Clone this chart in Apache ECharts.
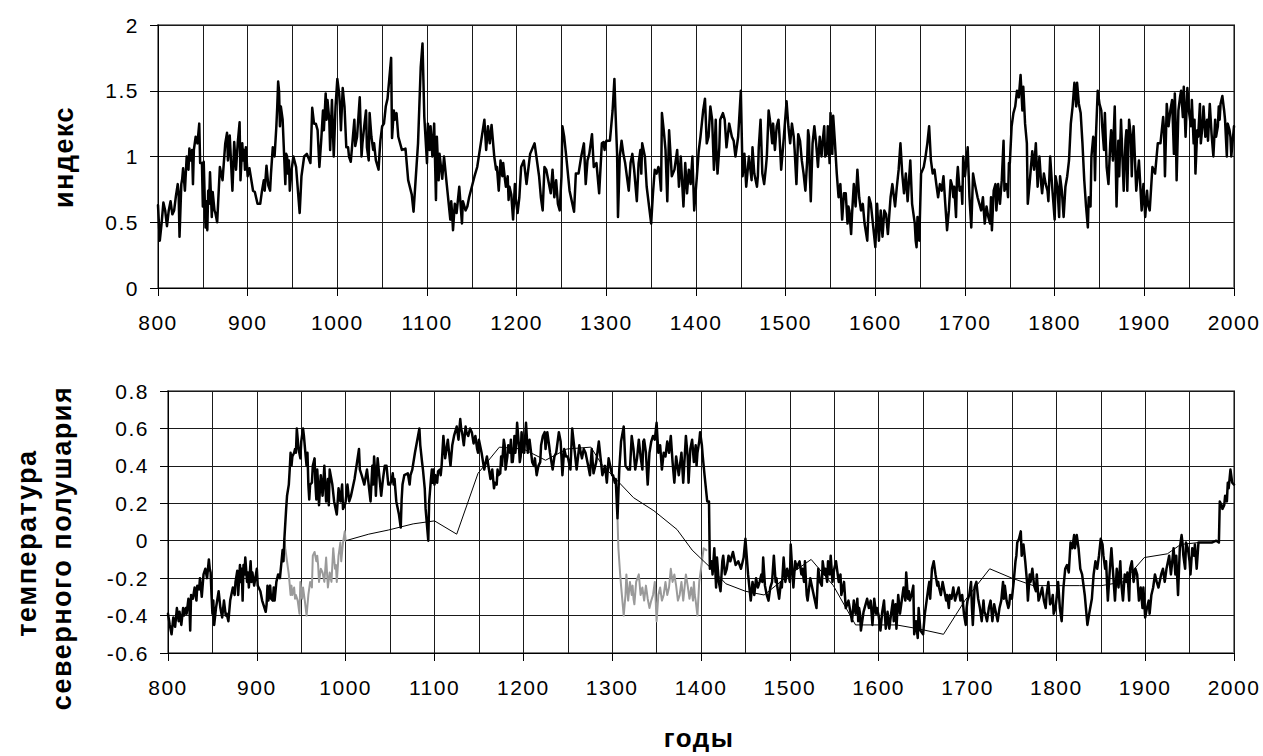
<!DOCTYPE html>
<html><head><meta charset="utf-8">
<script src="https://cdn.jsdelivr.net/npm/echarts@6/dist/echarts.min.js"></script>
<style>
html,body{margin:0;padding:0;background:#fff;}
#chart{width:1263px;height:756px;}
#chart text{letter-spacing:1.5px;}
</style></head><body><div id="chart"></div>
<script>
// ---- top panel: index ----
const idxYears = [
800,802,804,806,808,810,812,814,816,818,820,822,823,824,826,827,828,830,832,834,835,836,838,839,840,842,844,846,847,849,
850,851,853,854,855,856,857,858,860,861,863,864,866,867,869,872,875,877,878,880,883,885,887,889,891,892,894,895,896,897,898,900,
902,906,908,911,914,916,918,919,921,923,925,926,928,930,932,933,934,935,936,937,939,942,943,944,945,946,947,949,951,
954,958,960,963,966,970,972,974,976,978,980,982,984,985,987,988,989,991,992,994,996,998,1000,
1002,1003,1004,1006,1008,1010,1012,1013,1015,1019,1020,1022,1025,1027,1028,1030,1032,1033,1035,1036,1038,1040,1041,1043,1046,1047,1048,1050,
1052,1054,1056,1060,1061,1063,1064,1066,1068,1072,1076,1079,1083,1085,1087,1090,1093,1095,1097,1100,
1101,1103,1104,1106,1108,1110,1111,1113,1114,1117,1119,1122,1126,1127,1128,1129,1131,1133,1136,1139,1140,1143,1145,1147,1150,
1153,1156,1160,1164,1166,1168,1170,1172,1175,1177,1178,1180,1182,1184,1185,1187,1188,1190,1191,1192,1194,1196,1198,1199,1201,
1203,1205,1208,1211,1215,1220,1222,1225,1227,1229,1231,1233,1238,1240,1242,1244,1246,1248,1250,1251,
1253,1255,1259,1264,1266,1269,1272,1275,1277,1279,1281,1284,1286,1289,1292,1295,1297,1298,1299,1300,
1304,1307,1309,1310,1312,1313,1315,1317,1319,1321,1325,1327,1329,1331,1334,1336,1338,1339,1340,1343,1345,1350,
1352,1354,1356,1358,1359,1361,1362,1364,1366,1368,1370,1373,1376,1379,1381,1383,1386,1388,1390,1392,1394,1396,1398,
1401,1403,1405,1408,1410,1412,1414,1416,1418,1420,1422,1423,1424,1426,1427,1430,1432,1434,1437,1440,1442,1444,1447,1450,
1452,1454,1456,1459,1462,1463,1465,1468,1469,1470,1472,1474,1476,1478,1479,1481,1483,1485,1486,1488,1490,1492,1493,1495,1498,1501,
1503,1505,1507,1509,1510,1512,1514,1516,1518,1520,1522,1524,1525,1526,1527,1528,1530,1532,1534,1536,1538,1540,1541,1543,1544,1546,1547,1548,1549,1550,
1552,1553,1555,1557,1559,1561,1563,1565,1567,1569,1570,1571,1573,1574,1576,1578,1580,1582,1584,1586,1588,1591,1593,1595,1600,
1602,1604,1606,1608,1610,1612,1614,1617,1619,1622,1624,1626,1628,1630,1632,1634,1636,1639,1641,1644,1645,1646,1647,1649,
1651,1654,1656,1658,1660,1662,1664,1666,1668,1670,1672,1674,1676,1678,1680,1682,1684,1686,1687,1688,1690,1691,1692,1694,1696,1697,1698,1700,
1703,1705,1707,1709,1711,1714,1718,1720,1722,1724,1726,1728,1729,1730,1732,1734,1735,1737,1739,1741,1743,1744,1746,1747,1748,1749,1750,
1752,1754,1756,1758,1760,1762,1764,1765,1767,1769,1770,1772,1775,1777,1779,1781,1783,1785,1786,1788,1790,1792,1793,1795,1797,1800,
1801,1803,1805,1806,1808,1810,1812,1814,1816,1818,1820,1822,1824,1825,1827,1829,1831,1833,1835,1837,1838,1840,1841,1843,1844,1845,1846,1848,
1850,1852,1853,1855,1856,1858,1860,1862,1863,1865,1866,1867,1868,1869,1871,1872,1874,1877,1879,1880,1881,1883,1885,1886,1887,1888,1891,1894,1897,1899,
1901,1903,1904,1906,1909,1912,1915,1918,1921,1922,1923,1925,1927,1929,1931,1933,1934,1935,1936,1938,1940,1941,1943,1944,1946,1948,1950,
1952,1953,1955,1956,1957,1959,1960,1962,1963,1965,1966,1968,1970,1971,1973,1975,1977,1979,1980,1982,1983,1984,1985,1987,1989,1990,1992,1993,1995,1996,1997,2000
];
const idxValues = [
0.63,0.36,0.49,0.65,0.59,0.47,0.59,0.66,0.56,0.59,0.70,0.79,0.73,0.39,0.79,0.83,0.91,0.74,1.00,0.90,1.06,0.97,1.05,0.79,1.05,1.15,1.10,1.25,0.95,0.95,
0.62,0.96,0.46,0.66,0.44,0.74,0.64,0.88,0.54,0.73,0.59,0.57,0.50,0.64,0.92,0.82,1.10,1.18,0.97,1.16,0.74,1.11,0.90,1.11,1.26,0.82,1.10,0.97,1.05,0.90,1.07,0.85,
0.91,0.74,0.73,0.64,0.64,0.74,0.82,0.74,0.93,0.78,0.74,0.87,1.07,1.00,1.23,1.38,1.57,1.50,1.23,1.38,1.28,0.79,1.02,1.00,0.87,0.97,0.74,0.90,1.00,
0.92,0.57,0.85,1.00,1.02,0.95,1.37,1.25,1.25,1.20,0.92,1.12,1.35,1.20,1.48,1.28,1.43,1.28,1.05,1.43,1.00,1.38,1.59,
1.48,1.38,1.20,1.52,1.38,1.07,1.07,1.00,0.96,1.28,1.08,1.15,1.45,1.00,1.10,1.23,1.35,1.07,0.97,1.33,1.15,1.05,1.10,0.97,0.90,1.02,1.12,1.23,
1.25,1.38,1.44,1.75,1.14,1.35,1.28,1.33,1.15,1.05,1.06,0.82,0.71,0.58,0.79,1.10,1.68,1.86,1.30,0.95,
1.25,1.05,1.23,1.00,1.25,0.67,1.15,0.82,1.02,0.83,1.00,0.79,0.52,0.66,0.57,0.44,0.64,0.57,0.77,0.49,0.66,0.59,0.62,0.69,0.77,
0.85,0.92,1.10,1.28,1.05,1.23,1.10,1.24,1.00,0.90,0.92,0.74,0.97,0.85,0.95,0.82,0.77,0.85,0.67,0.77,0.71,0.52,0.79,0.68,0.57,
0.69,0.92,0.97,0.79,1.02,1.10,1.00,0.85,0.69,0.59,0.92,0.90,0.72,0.90,0.69,0.82,0.64,0.59,0.85,1.23,
1.15,1.02,0.74,0.58,0.87,0.87,1.00,1.10,0.79,0.97,1.02,1.17,0.92,0.95,0.72,1.10,1.11,1.05,1.09,1.12,
1.12,1.35,1.59,1.38,1.02,0.54,1.00,1.12,1.02,0.95,0.74,0.95,1.02,0.90,0.66,0.95,1.05,0.87,1.10,1.00,0.77,0.49,
0.72,0.90,0.87,0.92,0.90,0.74,1.33,1.20,1.05,0.66,1.20,0.85,0.90,1.05,0.77,1.00,0.62,0.95,0.72,0.90,0.79,1.00,0.59,
0.85,1.04,1.15,1.35,1.44,1.10,1.15,1.38,1.28,0.90,1.28,1.00,0.87,1.07,1.28,1.33,1.28,1.07,1.25,1.15,1.12,1.00,1.15,1.50,
0.85,1.02,0.77,1.00,0.82,1.07,0.87,0.77,0.85,1.07,1.28,0.87,0.79,0.92,1.00,1.35,1.25,1.10,1.25,1.05,1.23,1.28,1.17,0.90,1.15,1.42,
1.23,1.10,1.25,1.15,1.05,0.79,1.17,1.12,0.97,0.87,0.74,0.97,1.20,1.15,0.85,0.66,1.10,1.23,1.10,0.92,1.15,1.00,1.10,1.23,1.00,1.02,1.23,1.10,0.95,1.33,
1.02,1.31,1.10,0.87,0.69,0.79,0.52,0.72,0.72,0.49,0.62,0.59,0.41,0.56,0.79,0.62,0.90,0.69,0.59,0.64,0.49,0.36,0.69,0.64,0.31,
0.64,0.36,0.59,0.39,0.59,0.56,0.41,0.69,0.79,0.62,0.77,0.90,1.10,0.87,0.72,0.87,0.66,0.97,0.64,0.49,0.36,0.31,0.54,0.36,
0.87,0.92,1.00,1.10,1.23,0.97,0.87,0.90,0.79,0.69,0.79,0.74,0.85,0.64,0.44,0.59,0.82,0.77,0.69,0.77,0.54,0.82,0.92,0.74,0.77,0.64,1.00,0.85,
1.07,0.69,0.46,0.87,0.79,0.69,0.59,0.69,0.49,0.62,0.54,0.49,0.69,0.44,0.74,0.79,0.59,0.79,0.64,0.82,1.12,0.74,0.79,0.77,0.69,0.95,0.95,
1.23,1.33,1.38,1.50,1.45,1.62,1.35,1.53,1.25,1.10,0.64,0.79,1.04,0.90,1.10,0.77,1.00,0.79,0.72,0.87,0.79,0.74,0.66,1.00,0.79,0.52,
0.85,0.77,0.54,0.85,0.74,0.54,0.77,0.85,0.97,1.25,1.38,1.56,1.38,1.56,1.40,1.33,1.10,0.82,0.62,0.46,0.69,0.62,1.00,1.15,1.12,0.82,1.15,1.50,
1.40,1.35,1.23,1.05,1.33,0.92,0.79,1.10,1.20,0.97,1.20,1.38,1.00,0.62,1.12,0.85,1.28,0.74,1.12,1.20,0.74,1.28,1.15,0.85,1.10,1.23,0.74,0.97,0.59,0.79,
0.54,0.74,0.64,0.59,0.92,0.87,1.10,1.10,1.30,1.20,0.85,1.40,1.23,1.35,1.43,1.02,1.48,1.23,0.82,1.35,1.46,1.50,1.30,1.53,1.15,1.52,1.33,
1.23,1.43,1.10,1.28,0.87,1.20,1.15,1.40,1.10,1.25,1.38,1.15,1.28,1.12,1.40,1.17,1.00,1.28,1.15,1.23,1.38,1.28,1.40,1.46,1.35,1.28,1.00,1.25,1.20,1.15,1.00,1.23
];

// ---- bottom panel: northern hemisphere temperature ----
const tempYears = [
800,802,804,806,808,810,812,813,815,817,818,820,821,823,824,825,826,828,830,832,833,835,836,837,838,840,842,844,846,847,848,849,
850,851,852,854,857,859,861,863,864,865,866,868,870,873,875,876,878,879,881,882,883,884,885,886,887,889,890,891,893,894,895,897,900,
901,904,906,910,911,912,913,915,916,918,919,920,922,924,926,929,930,931,933,934,936,937,938,939,940,942,943,944,945,947,949,950,
952,953,955,956,957,958,959,960,962,963,965,966,967,968,969,970,972,974,976,978,980,981,982,985,987,990,992,994,996,997,999,1000,
1002,1004,1006,1010,1015,1016,1018,1021,1024,1028,1030,1031,1032,1033,1034,1035,1036,1040,1042,1044,1046,1048,1050,
1052,1053,1054,1055,1057,1060,1062,1063,1064,1066,1070,1072,1073,1075,1078,1083,1084,1086,1087,1089,1090,1093,1094,1096,1097,1098,1099,1100,
1101,1103,1104,1106,1107,1108,1110,1112,1115,1116,1118,1120,1122,1125,1127,1129,1130,1131,1133,1135,1136,1138,1140,1142,1144,1146,1148,1149,1150,
1153,1156,1159,1163,1165,1167,1168,1170,1171,1172,1174,1175,1176,1178,1179,1180,1182,1183,1185,1186,1187,1188,1189,1190,1191,1192,1193,1195,1196,1197,1198,1200,
1201,1203,1205,1206,1207,1210,1212,1213,1215,1217,1219,1220,1222,1224,1225,1227,1229,1230,1233,1235,1237,1240,1242,1244,1246,1248,1250,
1253,1255,1258,1260,1263,1266,1268,1270,1273,1275,1277,1279,1282,1285,1287,1289,1292,1294,1296,1300,
1301,1303,1304,1306,1308,1310,1313,1315,1318,1320,1322,1324,1326,1328,1330,1332,1334,1335,1336,1338,1340,1342,1344,1346,1348,1350,
1352,1354,1356,1358,1360,1362,1364,1366,1368,1370,1372,1375,1378,1380,1383,1385,1386,1388,1390,1392,1394,1395,1396,1398,1399,1401,1402,1404,1407,1409,
1410,1412,1413,1415,1417,1418,1420,1422,1424,1425,1427,1429,1431,1433,1436,1439,1442,1445,1448,1450,
1453,1456,1458,1460,1462,1464,1466,1468,1469,1470,1472,1474,1476,1478,1480,1482,1483,1484,1485,1486,1488,1490,1491,1493,1495,1497,1498,1500,
1501,1503,1504,1506,1508,1509,1511,1513,1514,1516,1517,1519,1520,1523,1526,1530,1532,1534,1536,1537,1539,1540,1542,1543,1544,1545,1546,1548,1550,
1552,1555,1557,1558,1561,1563,1566,1570,1572,1574,1575,1576,1577,1578,1579,1580,1583,1587,1589,1591,1593,1595,1597,1598,1600,
1602,1604,1606,1608,1610,1611,1612,1614,1616,1617,1619,1620,1622,1624,1628,1630,1631,1633,1634,1635,1637,1639,1640,1642,1644,1645,1647,1650,
1652,1654,1656,1657,1658,1660,1662,1664,1666,1667,1668,1670,1672,1674,1676,1677,1679,1680,1682,1684,1686,1690,1692,1694,1696,1698,1699,1700,
1702,1704,1705,1706,1708,1710,1712,1714,1716,1718,1719,1720,1722,1724,1726,1728,1730,1734,1736,1738,1740,1741,1742,1744,1746,1747,1748,1750,
1752,1754,1755,1756,1758,1760,1761,1763,1765,1767,1768,1770,1771,1773,1775,1777,1778,1780,1782,1784,1786,1788,1789,1791,1793,1795,1796,1797,1799,1800,
1802,1804,1806,1808,1810,1812,1814,1816,1818,1820,1821,1823,1825,1827,1829,1832,1835,1837,1840,1842,1844,1846,1848,1850,
1852,1853,1855,1856,1857,1858,1860,1862,1864,1866,1868,1870,1872,1873,1875,1877,1879,1880,1882,1883,1885,1887,1889,1891,1893,1895,1897,1898,1900,
1902,1904,1905,1907,1909,1911,1913,1915,1918,1920,1922,1924,1927,1929,1932,1933,1934,1935,1937,1939,1941,1942,1943,1945,1946,1948,1950,1951,1953,1955,1956,1958,
1960,1965,1970,1975,1980,1983,1984,1986,1987,1989,1990,1992,1993,1994,1996,1998,2000
];
const tempValues = [
-0.39,-0.45,-0.50,-0.41,-0.46,-0.36,-0.43,-0.38,-0.45,-0.36,-0.40,-0.36,-0.39,-0.31,-0.33,-0.48,-0.29,-0.31,-0.25,-0.32,-0.24,-0.26,-0.20,-0.25,-0.30,-0.18,-0.15,-0.20,-0.10,-0.15,-0.17,-0.29,
-0.39,-0.32,-0.45,-0.36,-0.27,-0.36,-0.41,-0.32,-0.36,-0.40,-0.39,-0.43,-0.32,-0.25,-0.29,-0.22,-0.16,-0.29,-0.13,-0.22,-0.15,-0.32,-0.13,-0.18,-0.09,-0.22,-0.17,-0.25,-0.11,-0.22,-0.17,-0.24,-0.15,
-0.24,-0.27,-0.32,-0.38,-0.34,-0.24,-0.32,-0.24,-0.31,-0.32,-0.25,-0.32,-0.22,-0.18,-0.20,-0.05,-0.11,0.01,0.17,0.24,0.30,0.38,0.47,0.40,0.45,0.47,0.49,0.47,0.60,0.49,0.44,0.53,
0.60,0.56,0.45,0.40,0.47,0.30,0.22,0.30,0.31,0.40,0.44,0.30,0.22,0.38,0.30,0.19,0.35,0.24,0.40,0.21,0.33,0.19,0.38,0.30,0.21,0.14,0.28,0.21,0.30,0.17,0.19,0.21,
0.30,0.21,0.24,0.33,0.49,0.38,0.35,0.30,0.38,0.21,0.40,0.30,0.45,0.38,0.24,0.35,0.44,0.24,0.33,0.40,0.40,0.30,0.30,
0.33,0.36,0.30,0.33,0.21,0.14,0.07,0.22,0.30,0.35,0.36,0.30,0.35,0.38,0.47,0.60,0.51,0.42,0.38,0.28,0.17,0.00,0.21,0.33,0.38,0.31,0.38,0.30,
0.35,0.31,0.37,0.38,0.35,0.40,0.56,0.44,0.54,0.49,0.40,0.51,0.56,0.61,0.54,0.65,0.60,0.58,0.51,0.61,0.58,0.56,0.60,0.58,0.52,0.56,0.49,0.47,0.54,
0.47,0.38,0.45,0.33,0.38,0.28,0.31,0.30,0.38,0.35,0.36,0.45,0.40,0.54,0.51,0.38,0.45,0.51,0.47,0.54,0.42,0.42,0.47,0.56,0.47,0.52,0.63,0.51,0.42,0.45,0.58,0.47,
0.47,0.63,0.47,0.51,0.54,0.42,0.40,0.44,0.35,0.40,0.42,0.51,0.56,0.58,0.49,0.58,0.51,0.47,0.38,0.45,0.47,0.58,0.53,0.35,0.49,0.45,0.45,
0.38,0.60,0.47,0.38,0.51,0.44,0.49,0.47,0.40,0.35,0.49,0.36,0.42,0.53,0.44,0.35,0.40,0.31,0.44,0.35,
0.35,0.31,0.33,0.12,0.38,0.53,0.61,0.40,0.38,0.38,0.56,0.49,0.38,0.44,0.54,0.45,0.38,0.53,0.54,0.47,0.30,0.47,0.53,0.56,0.54,0.63,
0.47,0.51,0.38,0.47,0.45,0.53,0.47,0.56,0.42,0.31,0.45,0.35,0.47,0.31,0.56,0.45,0.31,0.49,0.54,0.42,0.51,0.40,0.47,0.53,0.58,0.51,0.45,0.35,0.21,0.21,
-0.15,-0.11,-0.18,-0.04,-0.25,-0.09,-0.22,-0.27,-0.11,-0.08,-0.18,-0.15,-0.08,-0.11,-0.06,-0.13,-0.11,-0.15,-0.09,0.01,
-0.18,-0.32,-0.22,-0.29,-0.20,-0.25,-0.22,-0.18,-0.22,-0.09,-0.24,-0.29,-0.32,-0.25,-0.22,-0.08,-0.15,-0.22,-0.20,-0.25,-0.31,-0.22,-0.25,-0.09,-0.22,-0.15,-0.17,-0.22,
-0.02,-0.18,-0.25,-0.11,-0.15,-0.13,-0.11,-0.18,-0.15,-0.22,-0.11,-0.29,-0.32,-0.20,-0.27,-0.36,-0.15,-0.22,-0.24,-0.11,-0.18,-0.15,-0.22,-0.11,-0.15,-0.18,-0.08,-0.22,-0.15,
-0.11,-0.22,-0.18,-0.29,-0.22,-0.36,-0.32,-0.43,-0.32,-0.39,-0.36,-0.31,-0.43,-0.36,-0.39,-0.48,-0.38,-0.31,-0.36,-0.32,-0.45,-0.31,-0.39,-0.36,-0.40,
-0.48,-0.38,-0.32,-0.47,-0.38,-0.43,-0.47,-0.39,-0.32,-0.43,-0.34,-0.47,-0.29,-0.39,-0.25,-0.32,-0.17,-0.31,-0.27,-0.32,-0.29,-0.24,-0.50,-0.43,-0.52,-0.36,-0.48,-0.50,
-0.39,-0.32,-0.25,-0.22,-0.31,-0.15,-0.11,-0.18,-0.24,-0.22,-0.25,-0.29,-0.22,-0.27,-0.32,-0.29,-0.36,-0.29,-0.31,-0.25,-0.32,-0.25,-0.32,-0.29,-0.39,-0.45,-0.36,-0.32,
-0.29,-0.22,-0.36,-0.45,-0.25,-0.22,-0.31,-0.36,-0.43,-0.32,-0.38,-0.39,-0.43,-0.36,-0.32,-0.43,-0.34,-0.43,-0.36,-0.32,-0.22,-0.31,-0.24,-0.32,-0.36,-0.34,-0.29,-0.31,
-0.22,-0.11,-0.08,-0.01,0.01,0.05,-0.08,-0.02,-0.11,-0.22,-0.32,-0.18,-0.22,-0.15,-0.24,-0.27,-0.18,-0.32,-0.29,-0.25,-0.32,-0.36,-0.29,-0.22,-0.34,-0.32,-0.29,-0.39,-0.36,-0.32,
-0.22,-0.36,-0.43,-0.25,-0.15,-0.13,-0.17,-0.01,-0.04,0.03,-0.04,0.03,-0.04,-0.15,-0.18,-0.29,-0.45,-0.39,-0.31,-0.18,-0.11,-0.15,-0.08,0.01,
-0.02,-0.08,-0.15,-0.11,-0.22,-0.32,-0.17,-0.04,-0.18,-0.32,-0.15,-0.25,-0.11,-0.22,-0.32,-0.18,-0.22,-0.17,-0.32,-0.15,-0.11,-0.22,-0.15,-0.18,-0.32,-0.25,-0.36,-0.25,-0.41,
-0.36,-0.32,-0.39,-0.29,-0.25,-0.18,-0.22,-0.25,-0.18,-0.15,-0.22,-0.15,-0.08,-0.18,-0.04,-0.11,-0.18,-0.08,-0.29,-0.04,0.03,-0.01,-0.08,-0.15,-0.01,-0.04,-0.11,-0.18,-0.04,-0.08,-0.02,-0.15,
-0.01,-0.01,-0.01,-0.01,0.00,-0.01,0.21,0.19,0.17,0.19,0.24,0.21,0.31,0.28,0.38,0.31,0.30
];

// grey alternative segments (null = gap)
const greyYears = [
931,932,934,936,938,939,940,942,943,944,946,948,949,951,952,954,956,958,960,962,963,965,967,968,969,970,972,974,976,978,980,982,984,985,986,988,989,990,992,994,995,997,999,1000,
1150,
1306,1307,1309,1310,1313,1315,1316,1318,1320,1322,1323,1324,1325,1327,1330,1332,1334,1336,1338,1340,1342,1344,1346,1348,1349,1350,1352,1354,1356,1358,1360,1362,1364,1366,1368,1370,1372,1374,1376,1378,1380,1383,1385,1387,1389,1391,1392,1393,1394,1396,1398,1400,1403,1406
];
const greyValues = [
0.01,-0.04,-0.11,-0.18,-0.29,-0.24,-0.29,-0.25,-0.31,-0.29,-0.32,-0.39,-0.22,-0.31,-0.25,-0.32,-0.40,-0.29,-0.22,-0.25,-0.08,-0.06,-0.11,-0.08,-0.13,-0.22,-0.15,-0.17,-0.22,-0.09,-0.25,-0.17,-0.22,-0.13,-0.04,-0.15,-0.13,-0.22,-0.08,-0.01,-0.11,-0.01,0.05,0.00,
null,
0.12,-0.04,-0.18,-0.24,-0.40,-0.29,-0.18,-0.32,-0.22,-0.29,-0.24,-0.31,-0.34,-0.22,-0.18,-0.29,-0.25,-0.32,-0.24,-0.31,-0.36,-0.32,-0.29,-0.22,-0.32,-0.43,-0.29,-0.25,-0.32,-0.29,-0.22,-0.29,-0.25,-0.15,-0.22,-0.18,-0.24,-0.32,-0.29,-0.22,-0.32,-0.18,-0.24,-0.31,-0.25,-0.32,-0.22,-0.29,-0.32,-0.40,-0.22,-0.15,-0.04,-0.05
];

// thin low-resolution curve
const thinYears = [1000,1026,1048,1076,1100,1125,1149,1173,1200,1225,1249,1276,1288,1324,1347,1373,1390,1412,1428,1450,1471,1500,1524,1549,1574,1588,1620,1644,1673,1697,1725,1750,1774,1802,1826,1851,1875,1899,1925,1940,1960];
const thinValues = [0.0,0.035,0.057,0.09,0.106,0.035,0.36,0.50,0.49,0.43,0.49,0.50,0.41,0.23,0.16,0.06,-0.05,-0.15,-0.23,-0.27,-0.29,-0.18,-0.10,-0.24,-0.45,-0.45,-0.45,-0.47,-0.50,-0.32,-0.15,-0.20,-0.24,-0.24,-0.24,-0.24,-0.22,-0.09,-0.07,-0.02,-0.01];

const yearMin = 800, yearMax = 2000, yearStep = 100;
const idxMin = 0, idxMax = 2, idxStep = 0.5;
const tMin = -0.6, tMax = 0.8, tStep = 0.2;

const titleTop = 'индекс';
const titleBottom1 = 'температура';
const titleBottom2 = 'северного полушария';
const titleX = 'годы';

const FONT = '"Liberation Sans", Arial, sans-serif';
const pairs = (xs, ys) => xs.map((x, i) => [x, ys[i]]);

function xAxis(gi) {
  return {
    type: 'value', gridIndex: gi, min: yearMin, max: yearMax, interval: yearStep,
    axisLine: { show: true, onZero: false, lineStyle: { color: '#000', width: 1 } },
    axisTick: { show: true, length: 8, lineStyle: { color: '#000', width: 1 } },
    axisLabel: { color: '#000', fontSize: 21, fontFamily: FONT, margin: 24, showMinLabel: true, showMaxLabel: true,
      formatter: v => String(v) },
    splitLine: { show: true, lineStyle: { color: '#1a1a1a', width: 1 } },
    minorTick: { show: false, splitNumber: 2 },
    minorSplitLine: { show: true, lineStyle: { color: '#1a1a1a', width: 1 } }
  };
}
function yAxis(gi, mn, mx, st) {
  return {
    type: 'value', gridIndex: gi, min: mn, max: mx, interval: st,
    axisLine: { show: true, onZero: false, lineStyle: { color: '#000', width: 1 } },
    axisTick: { show: true, length: 8, lineStyle: { color: '#000', width: 1 } },
    axisLabel: { color: '#000', fontSize: 21, fontFamily: FONT, margin: 19, showMinLabel: true, showMaxLabel: true,
      formatter: v => String(Math.round(v * 10) / 10) },
    splitLine: { show: true, lineStyle: { color: '#1a1a1a', width: 1 } }
  };
}

const chart = echarts.init(document.getElementById('chart'), null, { renderer: 'svg', width: 1263, height: 756 });
chart.setOption({
  animation: false,
  backgroundColor: '#fff',
  grid: [
    { left: 158, right: 29, top: 25, bottom: 468, show: true, borderColor: '#808080', borderWidth: 2, containLabel: false, outerBoundsMode: 'none' },
    { left: 168, right: 29, top: 391, bottom: 103, show: true, borderColor: '#808080', borderWidth: 2, containLabel: false, outerBoundsMode: 'none' }
  ],
  xAxis: [xAxis(0), xAxis(1)],
  yAxis: [yAxis(0, idxMin, idxMax, idxStep), yAxis(1, tMin, tMax, tStep)],
  series: [
    { type: 'line', xAxisIndex: 0, yAxisIndex: 0, data: pairs(idxYears, idxValues), symbol: 'none', showSymbol: false,
      lineStyle: { color: '#000', width: 2.5, join: 'round', cap: 'round' }, z: 3 },
    { type: 'line', xAxisIndex: 1, yAxisIndex: 1, data: pairs(greyYears, greyValues), symbol: 'none', showSymbol: false, connectNulls: false,
      lineStyle: { color: '#9a9a9a', width: 2, join: 'round', cap: 'round' }, z: 2 },
    { type: 'line', xAxisIndex: 1, yAxisIndex: 1, data: pairs(tempYears, tempValues), symbol: 'none', showSymbol: false,
      lineStyle: { color: '#000', width: 2.5, join: 'round', cap: 'round' }, z: 3 },
    { type: 'line', xAxisIndex: 1, yAxisIndex: 1, data: pairs(thinYears, thinValues), symbol: 'none', showSymbol: false,
      lineStyle: { color: '#000', width: 1 }, z: 4 }
  ],
  graphic: [
    { type: 'text', x: 64, y: 157, rotation: Math.PI / 2, style: { text: titleTop, font: 'bold 27px ' + FONT, fill: '#000', align: 'center', verticalAlign: 'middle' } },
    { type: 'text', x: 27, y: 543, rotation: Math.PI / 2, style: { text: titleBottom1, font: 'bold 27px ' + FONT, fill: '#000', align: 'center', verticalAlign: 'middle' } },
    { type: 'text', x: 62, y: 548, rotation: Math.PI / 2, style: { text: titleBottom2, font: 'bold 27px ' + FONT, fill: '#000', align: 'center', verticalAlign: 'middle' } },
    { type: 'text', x: 699, y: 738, style: { text: titleX, font: 'bold 26px ' + FONT, fill: '#000', align: 'center', verticalAlign: 'middle' } }
  ]
});
</script>
</body></html>
